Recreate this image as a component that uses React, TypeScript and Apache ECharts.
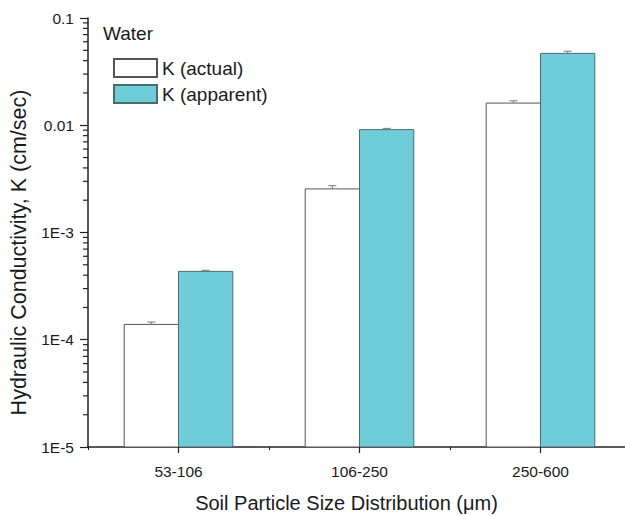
import React, { useEffect, useRef } from "react";
import * as echarts from "echarts";

const CATEGORIES = ["53-106", "106-250", "250-600"];
const K_ACTUAL = [1.39e-4, 2.55e-3, 0.0161];
const K_ACTUAL_ERR = [0.07e-4, 0.18e-3, 0.0008];
const K_APPARENT = [4.34e-4, 9.1e-3, 0.0468];
const K_APPARENT_ERR = [0.1e-4, 0.25e-3, 0.0022];
const MINOR_TICKS = [
  2e-5, 3e-5, 4e-5, 5e-5, 6e-5, 7e-5, 8e-5, 9e-5,
  2e-4, 3e-4, 4e-4, 5e-4, 6e-4, 7e-4, 8e-4, 9e-4,
  2e-3, 3e-3, 4e-3, 5e-3, 6e-3, 7e-3, 8e-3, 9e-3,
  2e-2, 3e-2, 4e-2, 5e-2, 6e-2, 7e-2, 8e-2, 9e-2,
];
const Y_MIN = 1e-5;
const Y_MAX = 0.1;

const FONT = "'Liberation Sans', Arial, sans-serif";
const TEXT = "#1a1a1a";
const TEAL = "#6ecdd9";

function errorSeries(values: number[], errs: number[], side: number) {
  return {
    type: "custom",
    silent: true,
    z: 5,
    clip: false,
    data: values.map((v, i) => [i, v, v + errs[i]]),
    renderItem: (params: any, api: any) => {
      const band = api.size([1, 0])[0];
      const barW = (band * 0.6) / 2;
      const base = api.coord([api.value(0), api.value(1)]);
      const top = api.coord([api.value(0), api.value(2)]);
      const x = base[0] + (side * barW) / 2;
      const cap = 4;
      return {
        type: "group",
        children: [
          { type: "line", shape: { x1: x, y1: base[1], x2: x, y2: top[1] }, style: { stroke: "#777", lineWidth: 1 } },
          { type: "line", shape: { x1: x - cap, y1: top[1], x2: x + cap, y2: top[1] }, style: { stroke: "#777", lineWidth: 1 } },
        ],
      };
    },
  };
}

function barSeries(name: string, values: number[], side: number, fill: string, border: string) {
  return {
    name,
    type: "custom",
    z: 2,
    clip: true,
    itemStyle: { color: fill, borderColor: border, borderWidth: 1 },
    data: values.map((v, i) => [i, v]),
    renderItem: (params: any, api: any) => {
      const band = api.size([1, 0])[0];
      const barW = (band * 0.6) / 2;
      const topPt = api.coord([api.value(0), api.value(1)]);
      const basePt = api.coord([api.value(0), Y_MIN]);
      const x = side < 0 ? topPt[0] - barW : topPt[0];
      return {
        type: "rect",
        shape: { x, y: topPt[1], width: barW, height: basePt[1] - topPt[1] },
        style: { fill, stroke: border, lineWidth: 1 },
      };
    },
  };
}

export default function App() {
  const ref = useRef<HTMLDivElement>(null);
  useEffect(() => {
    if (!ref.current) return;
    const chart = echarts.init(ref.current, null, { renderer: "svg" });
    chart.setOption({
      animation: false,
      backgroundColor: "#ffffff",
      textStyle: { fontFamily: FONT },
      title: {
        text: "Water",
        left: 103,
        top: 24,
        padding: 0,
        textStyle: { fontFamily: FONT, fontSize: 19, fontWeight: "normal", color: TEXT },
      },
      legend: {
        data: ["K (actual)", "K (apparent)"],
        orient: "vertical",
        left: 113,
        top: 58,
        padding: 0,
        itemWidth: 43,
        itemHeight: 18,
        itemGap: 6,
        icon: "rect",
        textStyle: { fontFamily: FONT, fontSize: 19, color: TEXT, padding: [0, 0, 0, 0] },
      },
      grid: { left: 88, right: -6, top: 18, bottom: 69, containLabel: false, outerBoundsMode: "none" },
      xAxis: [
        {
          type: "category",
          data: CATEGORIES,
          name: "Soil Particle Size Distribution (\u03bcm)",
          nameLocation: "middle",
          nameGap: 46,
          nameTextStyle: { fontFamily: FONT, fontSize: 20, color: TEXT, padding: [0, 26, 0, 0] },
          axisLine: { show: true, lineStyle: { color: "#222", width: 1.5 } },
          axisTick: { show: true, alignWithLabel: true, length: 6, lineStyle: { color: "#222", width: 1.2 } },
          axisLabel: { fontFamily: FONT, fontSize: 15.5, color: TEXT, margin: 16 },
          splitLine: { show: false },
        },
        {
          type: "category",
          data: CATEGORIES,
          position: "bottom",
          axisLine: { show: false },
          axisTick: { show: true, alignWithLabel: false, length: 3, lineStyle: { color: "#222", width: 1 } },
          axisLabel: { show: false },
          splitLine: { show: false },
        },
      ],
      yAxis: {
        type: "log",
        logBase: 10,
        min: Y_MIN,
        max: Y_MAX,
        name: "Hydraulic Conductivity, K (cm/sec)",
        nameLocation: "middle",
        nameGap: 57,
        nameTextStyle: { fontFamily: FONT, fontSize: 21.5, color: TEXT, padding: [0, 40, 0, 0] },
        axisLine: { show: true, lineStyle: { color: "#222", width: 1.5 } },
        axisTick: { show: true, length: 8, lineStyle: { color: "#222", width: 1.2 } },
        axisLabel: {
          fontFamily: FONT,
          fontSize: 15.5,
          color: TEXT,
          margin: 14,
          formatter: (v: number) => {
            const e = Math.round(Math.log10(v));
            if (e >= -2) return e === -1 ? "0.1" : "0.01";
            return "1E" + e;
          },
        },
        splitLine: { show: false },
      },
      series: [
        barSeries("K (actual)", K_ACTUAL, -1, "#ffffff", "#555"),
        barSeries("K (apparent)", K_APPARENT, 1, TEAL, "#4d6b6f"),
        errorSeries(K_ACTUAL, K_ACTUAL_ERR, -1),
        errorSeries(K_APPARENT, K_APPARENT_ERR, 1),
        {
          type: "custom",
          silent: true,
          clip: false,
          z: 6,
          data: MINOR_TICKS.map((v) => [0, v]),
          renderItem: (params: any, api: any) => {
            const y = api.coord([0, api.value(1)])[1];
            const x0 = params.coordSys.x;
            return {
              type: "line",
              shape: { x1: x0 - 5, y1: y, x2: x0, y2: y },
              style: { stroke: "#222", lineWidth: 1.2 },
            };
          },
        },
      ],
    });
    return () => chart.dispose();
  }, []);
  return <div ref={ref} style={{ width: 625, height: 516, position: "absolute", left: 0, top: 0 }} />;
}
